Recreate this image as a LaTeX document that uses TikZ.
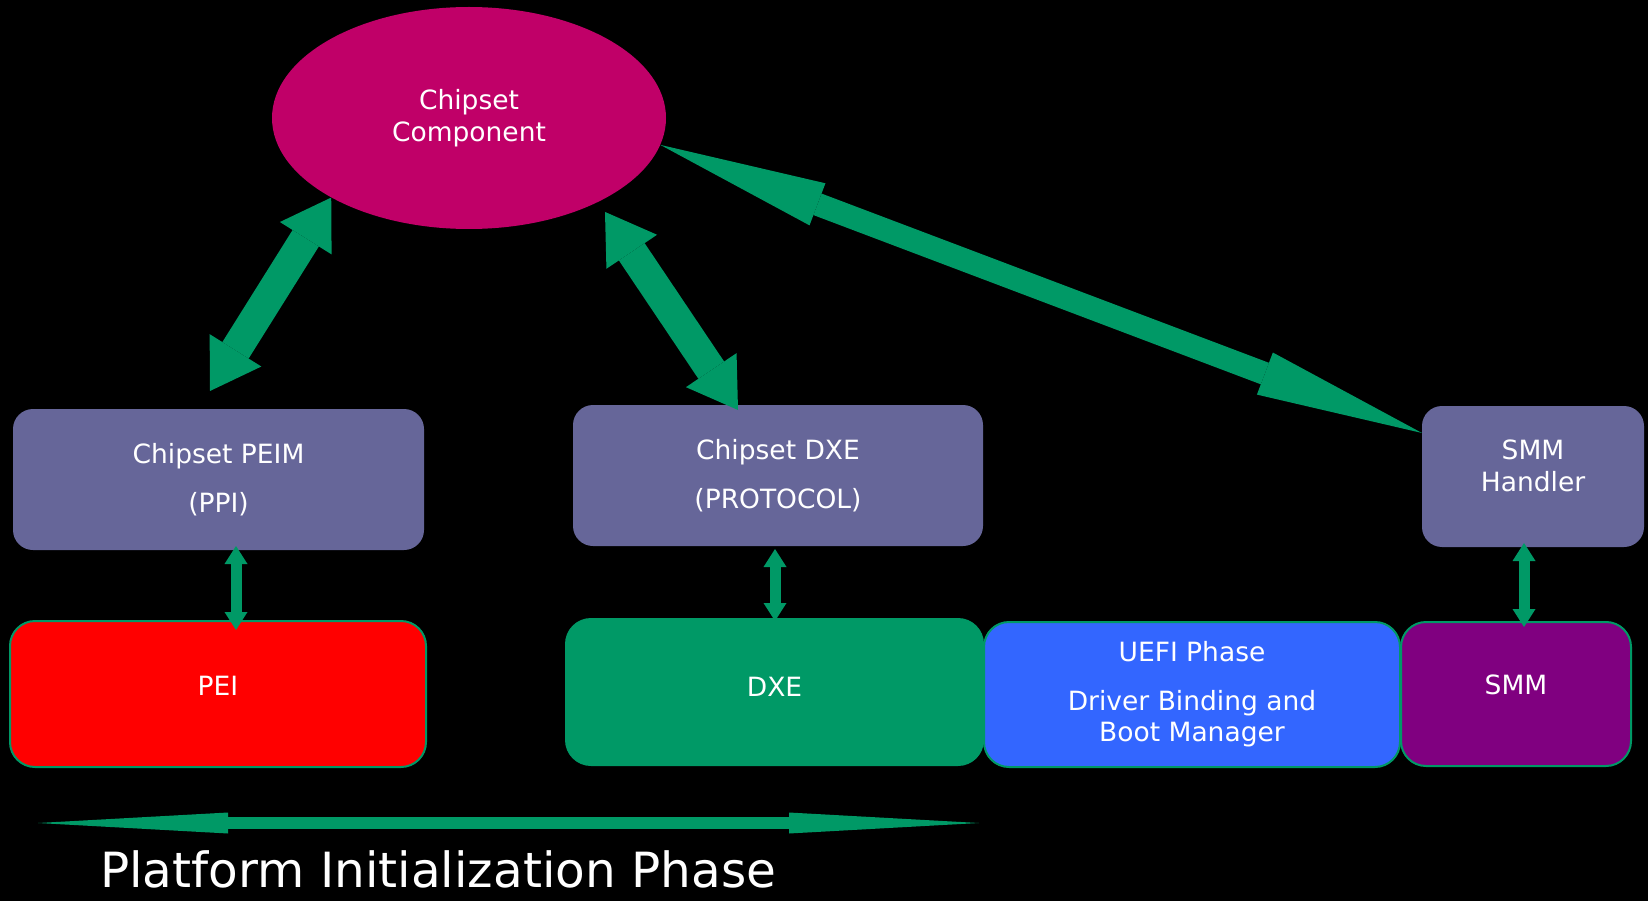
\documentclass[tikz,border=0pt]{standalone}
\usepackage{fontspec}
\setmainfont{DejaVu Sans}
\usetikzlibrary{arrows.meta,shapes.geometric,calc}
\definecolor{pmag}{RGB}{192,0,104}
\definecolor{pslate}{RGB}{102,102,153}
\definecolor{pgreen}{RGB}{0,153,102}
\definecolor{pred}{RGB}{255,0,0}
\definecolor{pblue}{RGB}{51,102,255}
\definecolor{ppurple}{RGB}{128,0,128}
\newcommand{\updepth}[1]{\rule[-#1]{0pt}{#1}}
\tikzset{
  lbl/.style={text=white, align=center, font=\fontsize{26.5}{31.5}\selectfont},
  slatebox/.style={lbl, rectangle, rounded corners=20pt, fill=pslate, draw=none, inner sep=0pt},
  phasebox/.style={lbl, rectangle, rounded corners=25pt, draw=pgreen, line width=2pt, inner sep=0pt},
  fatarrow/.style={pgreen, line width=31pt,
    {Triangle[length=48pt,width=61pt,line width=0pt]}-{Triangle[length=48pt,width=61pt,line width=0pt]}},
  longarrow/.style={pgreen, line width=23pt,
    {Triangle[length=168pt,width=45pt,line width=0pt]}-{Triangle[length=168pt,width=45pt,line width=0pt]}},
  smallarrow/.style={pgreen, line width=11pt,
    {Triangle[length=18pt,width=23pt,line width=0pt]}-{Triangle[length=18pt,width=23pt,line width=0pt]}},
  phasearrow/.style={pgreen, line width=12pt,
    {Triangle[length=190pt,width=21pt,line width=0pt]}-{Triangle[length=190pt,width=21pt,line width=0pt]}},
}
\begin{document}
\begin{tikzpicture}[x=1pt,y=-1pt]
\fill[black] (0,0) rectangle (1648,901);
\useasboundingbox (0,0) rectangle (1648,901);

% nodes
\node[ellipse, fill=pmag, minimum width=394pt, minimum height=222pt, inner sep=0pt, lbl] (ell) at (469,118) {Chipset\\Component};

\node[slatebox, minimum width=411pt, minimum height=141pt] (peim) at (218.5,479.5) {Chipset PEIM\\[18pt](PPI)};
\node[slatebox, minimum width=410pt, minimum height=141pt] (cdxe) at (778,475.5) {Chipset DXE\\[18pt](PROTOCOL)};
\node[slatebox, minimum width=222pt, minimum height=141pt] (smmh) at (1533,476.5) {SMM\\Handler\updepth{22pt}};

\node[phasebox, fill=pred, minimum width=416pt, minimum height=146pt] (pei) at (218,694) {PEI\updepth{16pt}};
\node[phasebox, fill=pgreen, minimum width=417pt, minimum height=146pt] (dxe) at (774.5,692) {DXE\updepth{11pt}};
\node[phasebox, fill=pblue, minimum width=416pt, minimum height=145pt] (uefi) at (1192,694.5) {UEFI Phase\\[17pt]Driver Binding and\\Boot Manager};
\node[phasebox, fill=ppurple, minimum width=230pt, minimum height=144pt] (smm) at (1516,694) {SMM\updepth{18pt}};

\node[anchor=base west, text=white, inner sep=0pt, font=\fontsize{48.5}{56}\selectfont] (pip) at (100,887) {Platform Initialization Phase};

% connector end points
\coordinate (a1e) at (210,391);
\coordinate (a2e) at (738,410);
\coordinate (a3e) at (1422,433);
\coordinate (v1s) at (236,546);
\coordinate (v1e) at (236,630);
\coordinate (v2s) at (775,549);
\coordinate (v2e) at (775,621);
\coordinate (v3s) at (1524,543);
\coordinate (v3e) at (1524,627);
\coordinate (pl) at (38,823);
\coordinate (pr) at (979,823);

% connectors
\draw[fatarrow] (ell.210.8) -- (a1e);
\draw[fatarrow, shorten <=12pt] (ell.327.9) -- (a2e);
\draw[longarrow] (ell.352) -- (a3e);
\draw[smallarrow] (v1s) -- (v1e);
\draw[smallarrow] (v2s) -- (v2e);
\draw[smallarrow] (v3s) -- (v3e);
\draw[phasearrow] (pl) -- (pr);
\end{tikzpicture}
\end{document}
